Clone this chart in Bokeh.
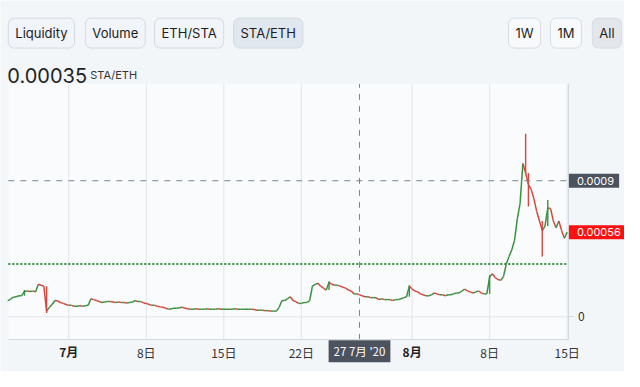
import numpy as np
import pandas as pd
from bokeh.plotting import figure
from bokeh.models import Range1d, FixedTicker, Label, ColumnDataSource, BoxAnnotation
from bokeh.embed import file_html
from bokeh.resources import INLINE

# ---------------- data ----------------
origin_date = "2020-07-01"
candle_start = "2020-06-25 12:00"   # 6-hour candles
candle_count = 203
# closing price STA/ETH, in units of 1e-5
close_e5 = [
    10.8, 11.8, 13.0, 13.3, 13.9, 14.0, 16.8, 17.1, 16.8, 17.1,
    16.5, 21.5, 20.9, 20.3, 3.8, 6.3, 8.2, 10.8, 10.5, 9.5,
    8.9, 8.2, 7.6, 7.6, 7.0, 7.0, 7.3, 7.0, 7.3, 7.6,
    12.0, 11.4, 10.8, 10.1, 9.5, 9.8, 10.1, 10.1, 9.8, 9.5,
    9.8, 9.5, 9.5, 9.2, 9.5, 9.8, 10.8, 10.1, 10.1, 9.2,
    8.9, 8.2, 7.6, 7.6, 7.0, 6.6, 6.3, 5.7, 5.1, 5.4,
    5.7, 5.7, 6.0, 6.3, 5.7, 5.4, 5.1, 5.1, 5.4, 5.1,
    5.1, 5.1, 5.4, 5.1, 5.1, 5.1, 5.4, 5.1, 5.1, 5.1,
    5.1, 5.1, 5.4, 5.1, 5.1, 5.1, 5.1, 5.1, 5.1, 4.8,
    4.4, 4.4, 4.4, 4.1, 4.1, 3.8, 3.8, 3.8, 6.3, 10.8,
    10.8, 12.0, 13.3, 10.8, 10.1, 8.9, 8.9, 9.5, 9.5, 10.8,
    20.3, 21.5, 22.2, 20.3, 19.0, 17.7, 22.8, 21.5, 20.9, 20.9,
    20.3, 19.6, 19.0, 17.7, 17.1, 15.2, 15.2, 14.6, 13.9, 13.3,
    13.3, 12.7, 12.7, 12.7, 11.4, 12.0, 11.4, 11.4, 11.4, 10.8,
    11.4, 11.4, 12.0, 12.7, 13.3, 20.3, 18.4, 17.1, 16.5, 15.2,
    14.6, 13.9, 13.9, 14.6, 15.8, 15.2, 14.6, 14.6, 14.0, 14.6,
    14.6, 15.2, 15.8, 15.8, 17.1, 18.4, 17.1, 16.5, 15.8, 16.5,
    17.1, 15.8, 15.2, 15.2, 26.6, 28.5, 26.0, 24.7, 24.1, 26.6,
    34.9, 39.9, 44.4, 50.7, 65.0, 75.0, 101.4, 95.1, 87.5, 84.3,
    78.0, 69.7, 63.4, 57.0, 60.0, 72.0, 71.6, 63.4, 58.9, 63.4,
    57.0, 52.0, 56.0,
]
first_open_e5 = 10.5
wick_high_e5 = {6: 17.7, 116: 23.5, 145: 21.0, 174: 27.5, 187: 121.0, 195: 77.3}
wick_low_e5 = {14: 2.5, 188: 72.9, 193: 39.9}

base_price = 0.00035
crosshair_time = "2020-07-27 06:00"
crosshair_text = "27 7月 '20"
crosshair_price = 0.0009
last_price = 0.00056

x_tick_dates = ["2020-07-01", "2020-07-08", "2020-07-15", "2020-07-22",
                "2020-08-01", "2020-08-08", "2020-08-15"]
x_tick_labels = ["7月", "8日", "15日", "22日", "8月", "8日", "15日"]
x_tick_bold = [True, False, False, False, True, False, False]

pair_buttons = ["Liquidity", "Volume", "ETH/STA", "STA/ETH"]
range_buttons = ["1W", "1M", "All"]

# ---------------- layout helpers (layout pixel -> data) ----------------
def tx(px):   # horizontal layout pixel -> days since origin
    return (px - 70) / 11.36

def vy(py):   # vertical layout pixel -> price
    return (330 - py) * 0.0009 / 142

t_left, t_axis = tx(8), tx(583)
v_bottom, v_top = vy(354), vy(87)

# ---------------- derived ----------------
day = pd.Timedelta(days=1)
org = pd.Timestamp(origin_date)
times = pd.date_range(candle_start, periods=candle_count, freq="6h")
t = np.asarray((times - org) / day, dtype=float)
step = 0.25
close = np.array(close_e5) * 1e-5
open_ = np.concatenate([[first_open_e5 * 1e-5], close[:-1]])
up = close >= open_
UP, DOWN = "#3b9140", "#d4483f"
colors = [UP if u else DOWN for u in up]
src = ColumnDataSource(dict(x0=np.maximum(t - step, t_left), x1=t, y0=open_, y1=close, c=colors))

wk_idx = sorted(set(wick_high_e5) | set(wick_low_e5))
wk = dict(x=[], lo=[], hi=[], c=[])
for i in wk_idx:
    hi = wick_high_e5.get(i, max(open_[i], close[i]) * 1e5) * 1e-5
    lo = wick_low_e5.get(i, min(open_[i], close[i]) * 1e5) * 1e-5
    wk["x"].append(t[i]); wk["lo"].append(lo); wk["hi"].append(hi); wk["c"].append(colors[i])
wsrc = ColumnDataSource(wk)

tick_pos = [int(round((pd.Timestamp(d) - org) / day)) for d in x_tick_dates]
ch_t = float((pd.Timestamp(crosshair_time) - org) / day)

# ---------------- figure ----------------
p = figure(width=624, height=371, output_backend="svg", toolbar_location=None,
           x_range=Range1d(tx(0), tx(640)), y_range=Range1d(vy(387), vy(0)),
           y_axis_location="right", min_border=0)
p.border_fill_color = "#f3f6f9"
p.background_fill_color = "#f3f6f9"
p.outline_line_color = None
p.xgrid.visible = False
p.ygrid.visible = False

GRID = "#e1e5ea"
AX = "#d3d8de"
TXT = "#333333"
CJK = "Noto Sans CJK SC"
FONT = "Inter"

# chart area background
p.add_layout(BoxAnnotation(left=t_left, right=t_axis, bottom=v_bottom, top=v_top,
                           fill_color="#fafbfc", fill_alpha=1, line_color=None, level="underlay"))

# axes drawn at the chart edges
p.xaxis.fixed_location = v_bottom
p.xaxis.bounds = (t_left, t_axis)
p.xaxis.ticker = FixedTicker(ticks=tick_pos)
p.xaxis.major_label_overrides = {pos: ("" if b else lab) for pos, lab, b in zip(tick_pos, x_tick_labels, x_tick_bold)}
p.xaxis.axis_line_color = AX
p.xaxis.major_tick_line_color = None
p.xaxis.major_tick_out = 0
p.xaxis.major_tick_in = 0
p.xaxis.minor_tick_line_color = None
p.xaxis.minor_tick_out = 0
p.xaxis.major_label_standoff = 4
p.xaxis.major_label_text_font_size = "12px"
p.xaxis.major_label_text_font = CJK
p.xaxis.major_label_text_color = TXT

p.yaxis.fixed_location = t_axis
p.yaxis.bounds = (v_bottom, v_top)
p.yaxis.ticker = FixedTicker(ticks=[0])
p.yaxis.axis_line_color = AX
p.yaxis.major_tick_line_color = AX
p.yaxis.major_tick_out = 5
p.yaxis.major_tick_in = 0
p.yaxis.minor_tick_line_color = None
p.yaxis.major_label_standoff = 4
p.yaxis.major_label_text_font_size = "12px"
p.yaxis.major_label_text_font = CJK
p.yaxis.major_label_text_color = TXT

# grid lines inside chart area
p.segment(x0=tick_pos, x1=tick_pos, y0=[v_bottom] * len(tick_pos), y1=[v_top] * len(tick_pos),
          line_color=GRID, line_width=1)
p.segment(x0=[t_left], x1=[t_axis], y0=[0], y1=[0], line_color=GRID, line_width=1)

# base price dotted line
p.segment(x0=[t_left], x1=[t_axis], y0=[base_price], y1=[base_price],
          line_color="#2e8f38", line_dash="2 2", line_width=2)

# candles (body path) and wicks
p.segment(x0="x0", y0="y0", x1="x1", y1="y1", line_color="c", line_width=1.5, source=src)
p.segment(x0="x", y0="lo", x1="x", y1="hi", line_color="c", line_width=1.4, source=wsrc)

# crosshair
CH = "#758696"
p.segment(x0=[t_left], x1=[t_axis], y0=[crosshair_price], y1=[crosshair_price],
          line_color=CH, line_dash="6 6", line_width=1)
p.segment(x0=[ch_t], x1=[ch_t], y0=[v_bottom], y1=[v_top],
          line_color=CH, line_dash="6 6", line_width=1)

# price scale labels
for val, bg in [(crosshair_price, "#4c525e"), (last_price, "#ff1010")]:
    p.add_layout(Label(x=t_axis, y=val, text=f"{val:g}", text_font=FONT, text_font_size="11px",
                       text_color="white", text_align="left", text_baseline="middle",
                       background_fill_color=bg, padding=dict(left=8, right=5, top=3, bottom=3)))

# bold month labels on time axis
for pos, lab, b in zip(tick_pos, x_tick_labels, x_tick_bold):
    if b:
        p.add_layout(Label(x=pos, y=vy(366), text=lab, text_font=CJK, text_font_size="12px",
                           text_font_style="bold", text_color="#222222",
                           text_align="center", text_baseline="middle"))

# crosshair time label
p.add_layout(Label(x=ch_t, y=vy(366), text=crosshair_text, text_font=CJK, text_font_size="11.5px",
                   text_color="white", text_align="center", text_baseline="middle",
                   background_fill_color="#4c525e", padding=dict(left=5, right=5, top=3, bottom=3)))

# header: buttons
btn_y = vy(34)
pair_px = [8, 87, 158, 239]
for name, bx in zip(pair_buttons, pair_px):
    sel = name == "STA/ETH"
    p.add_layout(Label(x=tx(bx), y=btn_y, text=name, text_font=FONT, text_font_size="13px",
                       text_color="#1d1d1f", text_align="left", text_baseline="middle",
                       background_fill_color="#e1e7ee" if sel else "#f1f4f8",
                       border_line_color="#d3dae3", border_line_width=1, border_radius=6,
                       padding=dict(left=7, right=7, top=7, bottom=7)))
range_px = [521, 564, 607]
for name, bx in zip(range_buttons, range_px):
    sel = name == "All"
    p.add_layout(Label(x=tx(bx), y=btn_y, text=name, text_font=FONT, text_font_size="13px",
                       text_color="#1d1d1f", text_align="left", text_baseline="middle",
                       background_fill_color="#e3e6ea" if sel else "#f8f9fb",
                       border_line_color="#d6dce3", border_line_width=1, border_radius=6,
                       padding=dict(left=7, right=7, top=7, bottom=7)))

# header: current price
p.add_layout(Label(x=tx(7), y=vy(78), text=f"{base_price:.5f}", text_font=FONT,
                   text_font_size="20px", text_color="#222222",
                   text_align="left", text_baseline="alphabetic"))
p.add_layout(Label(x=tx(92), y=vy(78), text="STA/ETH", text_font=FONT,
                   text_font_size="11px", text_color=TXT,
                   text_align="left", text_baseline="alphabetic"))

open("out.html", "w").write(file_html(p, INLINE))
